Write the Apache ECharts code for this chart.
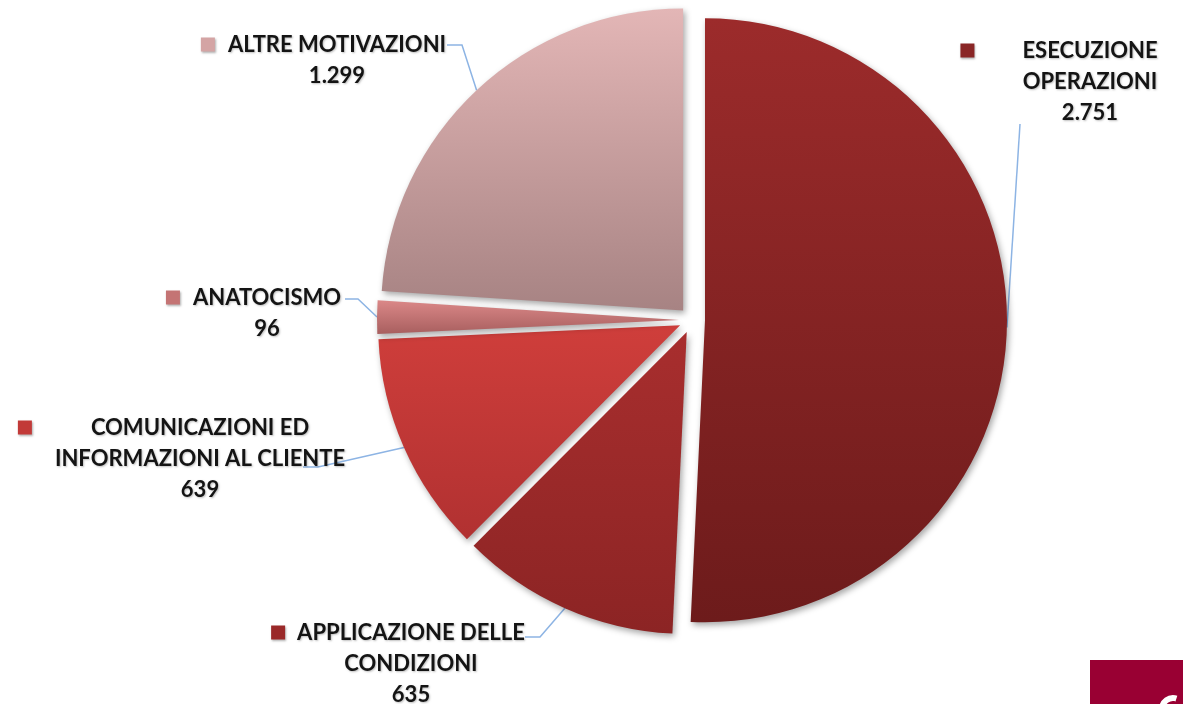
<!DOCTYPE html>
<html>
<head>
<meta charset="utf-8">
<script src="https://cdn.jsdelivr.net/npm/echarts@6/dist/echarts.min.js"></script>
<style>
  html, body { margin: 0; padding: 0; background: #ffffff; }
  #chart { width: 1183px; height: 704px; }
</style>
</head>
<body>
<div id="chart"></div>
<script>
// ---- data ----
const categories = [
  'ESECUZIONE\nOPERAZIONI',
  'APPLICAZIONE DELLE\nCONDIZIONI',
  'COMUNICAZIONI ED\nINFORMAZIONI AL CLIENTE',
  'ANATOCISMO',
  'ALTRE MOTIVAZIONI'
];
const values = [2751, 635, 639, 96, 1299];

// ---- styles ----
const gradients = [
  ['#9c2b2b', '#6d1b1b'],
  ['#a82e2e', '#8c2424'],
  ['#cf3e3b', '#b13131'],
  ['#db8888', '#a85f5f'],
  ['#e3b6b6', '#a78383']
];
const squareColors = ['#8a2626', '#9a2929', '#c23a38', '#c47474', '#d4a4a4'];
// label block layout: centre x, top y, gap between square and text, leader bend/end
const labelPlaces = [
  { x: 1090, y: 35,  gap: 48, bend: null,       end: [1020, 124] },
  { x: 411,  y: 617, gap: 12, bend: [540, 637], end: [525, 637] },
  { x: 200,  y: 412, gap: 59, bend: [318, 467], end: [303, 467] },
  { x: 267,  y: 282, gap: 13, bend: [358, 299], end: [345, 299] },
  { x: 337,  y: 29,  gap: 13, bend: [462, 45],  end: [447, 45] }
];

const CENTER = [692, 320];
const RADIUS = 302;
const EXPLODE = 13;

function fmt(v) {
  return String(v).replace(/\B(?=(\d{3})+(?!\d))/g, '.');
}

const SQ = 14;
const textBase = {
  fontFamily: 'Lato, "Open Sans", sans-serif',
  fontWeight: 'bold',
  fontSize: 22,
  lineHeight: 31,
  color: '#141414',
  textShadowColor: 'rgba(0,0,0,0.25)',
  textShadowBlur: 2,
  textShadowOffsetX: 1,
  textShadowOffsetY: 1
};

// exploded, coloured slices
const sliceData = values.map(function (v, i) {
  return {
    name: categories[i],
    value: v,
    selected: true,
    itemStyle: {
      color: new echarts.graphic.LinearGradient(0, 0, 0, 1, [
        { offset: 0, color: gradients[i][0] },
        { offset: 1, color: gradients[i][1] }
      ])
    }
  };
});

// same values, invisible slices, carrying the labels and leader lines
const labelData = values.map(function (v, i) {
  const place = labelPlaces[i];
  const lines = categories[i].split('\n');
  let text = '{sq|}{g|}{t|' + lines[0] + '}{b|}';
  for (let k = 1; k < lines.length; k++) text += '\n{t|' + lines[k] + '}';
  text += '\n{t|' + fmt(v) + '}';
  return {
    name: categories[i],
    value: v,
    label: {
      formatter: text,
      rich: {
        sq: { width: SQ, height: SQ, backgroundColor: squareColors[i], verticalAlign: 'middle',
              shadowColor: 'rgba(0,0,0,0.3)', shadowBlur: 2, shadowOffsetX: 1, shadowOffsetY: 1 },
        g: { width: place.gap, height: 1 },
        b: { width: place.gap + SQ, height: 1 },
        t: textBase
      }
    }
  };
});

const chart = echarts.init(document.getElementById('chart'), null, { renderer: 'canvas' });
chart.setOption({
  animation: false,
  backgroundColor: '#ffffff',
  series: [{
    type: 'pie',
    center: CENTER,
    radius: [0, RADIUS],
    startAngle: 90,
    clockwise: true,
    silent: true,
    selectedMode: 'multiple',
    selectedOffset: EXPLODE,
    emphasis: { disabled: true },
    itemStyle: {
      shadowBlur: 6,
      shadowColor: 'rgba(0,0,0,0.35)',
      shadowOffsetX: 2,
      shadowOffsetY: 3
    },
    label: { show: false },
    labelLine: { show: false },
    data: sliceData
  }, {
    type: 'pie',
    center: CENTER,
    radius: [0, RADIUS + EXPLODE],
    startAngle: 90,
    clockwise: true,
    silent: true,
    selectedMode: false,
    emphasis: { disabled: true },
    itemStyle: { color: 'rgba(0,0,0,0)' },
    label: {
      show: true,
      position: 'outside',
      align: 'center',
      overflow: 'none'
    },
    labelLine: {
      show: true,
      lineStyle: { color: '#8db4e4', width: 1.5 }
    },
    labelLayout: function (params) {
      const p = labelPlaces[params.dataIndex];
      const anchor = params.labelLinePoints ? params.labelLinePoints[0] : null;
      const pts = [];
      if (anchor) pts.push(anchor);
      if (p.bend) pts.push(p.bend);
      pts.push(p.end);
      if (pts.length === 2) pts.splice(1, 0, p.end);
      return {
        x: p.x,
        y: p.y,
        align: 'center',
        verticalAlign: 'top',
        labelLinePoints: pts
      };
    },
    data: labelData
  }],
  graphic: [
    { type: 'rect', left: 1090, top: 660, shape: { width: 93, height: 44 }, style: { fill: '#990033' }, z: 10 },
    { type: 'arc', shape: { cx: 1173, cy: 709, r: 11, startAngle: Math.PI * 1.05, endAngle: Math.PI * 1.6 },
      style: { stroke: '#ffffff', lineWidth: 6, fill: null }, z: 11 }
  ]
});
</script>
</body>
</html>
